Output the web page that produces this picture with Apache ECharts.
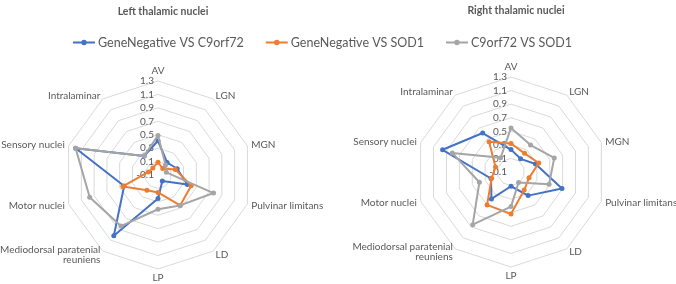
<!DOCTYPE html>
<html><head><meta charset="utf-8">
<script src="https://cdn.jsdelivr.net/npm/echarts@6/dist/echarts.min.js"></script>
<style>html,body{margin:0;padding:0;background:#fff}#c{width:676px;height:284px}</style>
</head><body><div id="c"></div>
<script>
const categories = ['AV', 'LGN', 'MGN', 'Pulvinar limitans', 'LD', 'LP', 'Mediodorsal paratenial\nreuniens', 'Motor nuclei', 'Sensory nuclei', 'Intralaminar'];
const seriesNames = ['GeneNegative VS C9orf72', 'GeneNegative VS SOD1', 'C9orf72 VS SOD1'];
const panelTitles = ['Left thalamic nuclei', 'Right thalamic nuclei'];
const axisMin = -0.1, axisMax = 1.3, axisSplits = 7; // ticks -0.1, 0.1, ... 1.3

const leftGeneNegVsC9 = [0.41, 0.13, 0.20, 0.36, 0.01, 0.25, 1.02, 0.43, 1.19, 0.25];
const leftGeneNegVsSOD1 = [0.09, 0.02, 0.17, 0.42, 0.46, 0.16, 0.18, 0.45, 0.05, 0.03];
const leftC9VsSOD1 = [0.49, 0.09, 0.03, 0.77, 0.46, 0.41, 0.84, 0.97, 1.19, 0.25];

const rightGeneNegVsC9 = [0.23, 0.14, 0.28, 0.69, 0.33, 0.11, 0.39, 0.21, 0.96, 0.61];
const rightGeneNegVsSOD1 = [0.32, 0.24, 0.33, 0.18, 0.23, 0.52, 0.50, 0.20, 0.14, 0.45];
const rightC9VsSOD1 = [0.55, 0.39, 0.57, 0.49, 0.09, 0.41, 0.86, 0.39, 0.81, 0.16];

const colors = ['#4472C4', '#ED7D31', '#A5A5A5'];
const FONT = 'Lato, "Liberation Sans", sans-serif';

// Excel goes clockwise, ECharts radar counter-clockwise: reorder indices
const order = [0].concat(categories.slice(1).map((_, i) => categories.length - 1 - i));
const reorder = arr => order.map(i => arr[i]);

function makeRadar(center, radius) {
  return {
    center: center, radius: radius, startAngle: 90, shape: 'polygon', splitNumber: axisSplits,
    indicator: order.map((i, k) => ({ name: categories[i], min: axisMin, max: axisMax, axisLabel: { show: k === 0 } })),
    axisName: { color: '#595959', fontSize: 10, fontFamily: FONT },
    nameGap: 4,
    axisLine: { show: false },
    axisTick: { show: false },
    splitLine: { lineStyle: { color: '#D9D9D9', width: 1 } },
    splitArea: { show: false },
    axisLabel: { show: true, color: '#595959', fontSize: 10, fontFamily: FONT, margin: 4,
      formatter: v => (Math.round(v * 10) / 10).toFixed(1) }
  };
}

const panels = [
  [leftGeneNegVsC9, leftGeneNegVsSOD1, leftC9VsSOD1],
  [rightGeneNegVsC9, rightGeneNegVsSOD1, rightC9VsSOD1]
];

const series = [];
panels.forEach((vals, r) => {
  vals.forEach((v, j) => {
    series.push({
      type: 'radar', radarIndex: r, name: seriesNames[j], z: 2 + j,
      symbol: 'circle', symbolSize: 5,
      data: [{ name: seriesNames[j], value: reorder(v),
        itemStyle: { color: colors[j] }, lineStyle: { color: colors[j], width: 2 } }]
    });
  });
});

const chart = echarts.init(document.getElementById('c'), null, { renderer: 'canvas' });
chart.setOption({
  animation: false,
  color: colors,
  title: [
    { text: panelTitles[0], left: 158, top: 1, textAlign: 'center', textStyle: { fontSize: 10.5, fontWeight: 'bold', color: '#595959', fontFamily: FONT } },
    { text: panelTitles[1], left: 511, top: 0, textAlign: 'center', textStyle: { fontSize: 10.5, fontWeight: 'bold', color: '#595959', fontFamily: FONT } }
  ],
  legend: {
    data: seriesNames, left: 68, top: 31, itemGap: 22, itemWidth: 22, itemHeight: 8,
    icon: 'path://M0,3 L24,3 L24,5 L0,5 Z M15,4 A3,3 0 1,1 9,4 A3,3 0 1,1 15,4 Z',
    textStyle: { color: '#595959', fontSize: 12.5, fontFamily: FONT, padding: [0, 0, 0, -2] }
  },
  radar: [makeRadar([158, 175], 94), makeRadar([511, 172], 95)],
  series: series
});
</script></body></html>
